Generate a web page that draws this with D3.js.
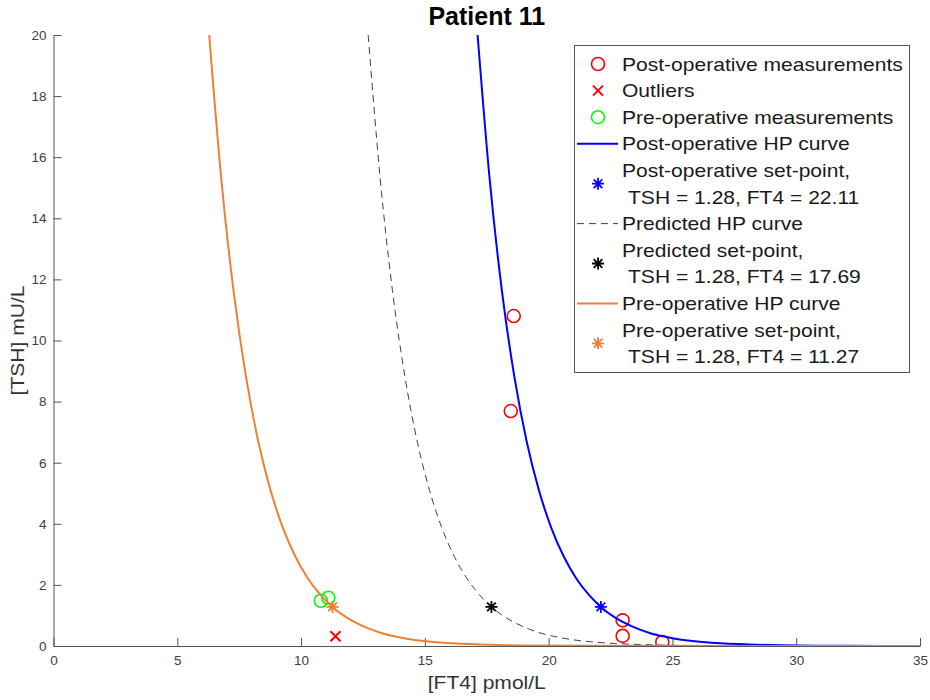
<!DOCTYPE html>
<html lang="en">
<head>
    <meta charset="UTF-8">
    <title>Patient 11</title>
    <script src="https://d3js.org/d3.v7.min.js"></script>
    <style>
        body { margin: 0; background: #fff; }
        svg text { font-family: "Liberation Sans", Arial, sans-serif; }
    </style>
</head>
<body>
    <div id="chart"></div>

    <script>
        const postMeasurements = [[18.59, 10.80], [18.47, 7.69], [22.99, 0.84], [22.99, 0.33], [24.59, 0.13]];
        const outliers = [[11.39, 0.32]];
        const preMeasurements = [[10.80, 1.48], [11.10, 1.58]];

        // set-points
        const postSetPoint = [22.11, 1.28];
        const predSetPoint = [17.69, 1.28];
        const preSetPoint = [11.27, 1.28];

        // HP curves, points
        const postCurveFT4 = [17.13, 17.61, 18.11, 18.61, 19.11, 19.61, 20.11, 20.61, 21.11, 21.61, 22.11, 22.61, 23.11, 23.61, 24.11, 24.61, 25.11, 26.11, 27.11, 28.11, 30.11, 32.11, 35];
        const predCurveFT4 = [12.71, 13.19, 13.69, 14.19, 14.69, 15.19, 15.69, 16.19, 16.69, 17.19, 17.69, 18.19, 18.69, 19.19, 19.69, 20.19, 20.69, 21.69, 22.69, 23.69, 25.69, 27.69, 35];
        const preCurveFT4 = [6.29, 6.77, 7.27, 7.77, 8.27, 8.77, 9.27, 9.77, 10.27, 10.77, 11.27, 11.77, 12.27, 12.77, 13.27, 13.77, 14.27, 15.27, 16.27, 17.27, 19.27, 21.27, 35];
        const curveTSH = [20.0, 15.35, 11.64, 8.84, 6.70, 5.09, 3.86, 2.93, 2.22, 1.69, 1.28, 0.97, 0.74, 0.56, 0.42, 0.32, 0.24, 0.14, 0.08, 0.05, 0.015, 0.005, 0.0];

        const xTicks = [0, 5, 10, 15, 20, 25, 30, 35];
        const yTicks = [0, 2, 4, 6, 8, 10, 12, 14, 16, 18, 20];

        const blue = "#0000ff", red = "#ff0000", green = "#00ff00", orange = "#ee8033", dark = "#333333";
        const wide = 1.17;  // text in the picture is stretched sideways

        const width = 930, height = 700;
        const margin = {top: 35, right: 10, bottom: 54, left: 53.5};

        const svg = d3.select("#chart").append("svg")
            .attr("width", width)
            .attr("height", height);

        const x = d3.scaleLinear().domain([0, 35]).range([margin.left, 920]);
        const y = d3.scaleLinear().domain([0, 20]).range([height - margin.bottom, margin.top]);

        svg.append("defs").append("clipPath").attr("id", "plot")
            .append("rect")
            .attr("x", x(0)).attr("y", y(20))
            .attr("width", x(35) - x(0)).attr("height", y(0) - y(20));

        // axes, ticks pointing inward
        const xAxis = svg.append("g")
            .attr("transform", `translate(0,${y(0)})`)
            .call(d3.axisBottom(x).tickValues(xTicks).tickSizeInner(-8).tickSizeOuter(0).tickPadding(9));
        const yAxis = svg.append("g")
            .attr("transform", `translate(${x(0)},0)`)
            .call(d3.axisLeft(y).tickValues(yTicks).tickSizeInner(-8).tickSizeOuter(0).tickPadding(7));
        [xAxis, yAxis].forEach(g => {
            g.select(".domain").attr("stroke", "#555");
            g.selectAll(".tick line").attr("stroke", "#555");
            g.selectAll(".tick text").attr("fill", "#404040").style("font-size", "13.5px");
        });

        // labels
        svg.append("text")
            .attr("transform", `translate(${(x(0) + x(35)) / 2},689) scale(${wide},1)`)
            .attr("text-anchor", "middle")
            .attr("fill", dark)
            .style("font-size", "18px")
            .text("[FT4] pmol/L");

        svg.append("text")
            .attr("transform", `translate(24,${(y(0) + y(20)) / 2}) rotate(-90) scale(${wide},1)`)
            .attr("text-anchor", "middle")
            .attr("fill", dark)
            .style("font-size", "18px")
            .text("[TSH] mU/L");

        svg.append("text")
            .attr("x", (x(0) + x(35)) / 2)
            .attr("y", 25)
            .attr("text-anchor", "middle")
            .style("font-size", "25px")
            .style("font-weight", "bold")
            .text("Patient 11");

        const plot = svg.append("g").attr("clip-path", "url(#plot)");

        const line = d3.line()
            .x(d => x(d[0]))
            .y(d => y(d[1]))
            .curve(d3.curveMonotoneX);

        function drawCircles(data, color) {
            plot.selectAll(null).data(data).enter().append("circle")
                .attr("cx", d => x(d[0])).attr("cy", d => y(d[1]))
                .attr("r", 6.5)
                .attr("fill", "none").attr("stroke", color).attr("stroke-width", 1.6);
        }

        function crossPath(cx, cy, r) {
            return `M${cx - r},${cy - r}L${cx + r},${cy + r}M${cx - r},${cy + r}L${cx + r},${cy - r}`;
        }

        function starPath(cx, cy, r) {
            const k = r * 0.72;
            return `M${cx - r},${cy}L${cx + r},${cy}M${cx},${cy - r}L${cx},${cy + r}` + crossPath(cx, cy, k);
        }

        function drawCurve(ft4, color, dash, w) {
            plot.append("path")
                .datum(ft4.map((v, i) => [v, curveTSH[i]]))
                .attr("d", line)
                .attr("fill", "none")
                .attr("stroke", color)
                .attr("stroke-width", w)
                .attr("stroke-dasharray", dash);
        }

        function drawStar(p, color) {
            plot.append("path")
                .attr("d", starPath(x(p[0]), y(p[1]), 6))
                .attr("stroke", color).attr("stroke-width", 1.8).attr("fill", "none");
        }

        drawCircles(postMeasurements, red);
        plot.selectAll(null).data(outliers).enter().append("path")
            .attr("d", d => crossPath(x(d[0]), y(d[1]), 5))
            .attr("stroke", red).attr("stroke-width", 2).attr("fill", "none");
        drawCircles(preMeasurements, green);
        drawCurve(postCurveFT4, blue, null, 2);
        drawStar(postSetPoint, blue);
        drawCurve(predCurveFT4, "#404040", "7,5", 1);
        drawStar(predSetPoint, "#000");
        drawCurve(preCurveFT4, orange, null, 2);
        drawStar(preSetPoint, orange);

        // legend
        const setLabel = (name, p) => [name + " set-point,", `TSH = ${p[1].toFixed(2)}, FT4 = ${p[0].toFixed(2)}`];
        const legendItems = [
            {kind: "circle", color: red, lines: ["Post-operative measurements"]},
            {kind: "cross", color: red, lines: ["Outliers"]},
            {kind: "circle", color: green, lines: ["Pre-operative measurements"]},
            {kind: "line", color: blue, w: 2, lines: ["Post-operative HP curve"]},
            {kind: "star", color: blue, lines: setLabel("Post-operative", postSetPoint)},
            {kind: "line", color: "#404040", w: 1, dash: "7,5", lines: ["Predicted HP curve"]},
            {kind: "star", color: "#000", lines: setLabel("Predicted", predSetPoint)},
            {kind: "line", color: orange, w: 2, lines: ["Pre-operative HP curve"]},
            {kind: "star", color: orange, lines: setLabel("Pre-operative", preSetPoint)}
        ];

        const legend = svg.append("g");
        legend.append("rect")
            .attr("x", 574.5).attr("y", 45.5)
            .attr("width", 335).attr("height", 327)
            .attr("fill", "#fff").attr("stroke", "#555").attr("stroke-width", 1);

        const rowH = 26.6;
        let row = 0;
        legendItems.forEach(item => {
            const n = item.lines.length;
            const cy = 70.5 + rowH * (row + (n - 1) / 2) - 6.5;
            const g = legend.append("g");
            if (item.kind === "circle") {
                g.append("circle").attr("cx", 598).attr("cy", cy).attr("r", 6.5)
                    .attr("fill", "none").attr("stroke", item.color).attr("stroke-width", 1.6);
            } else if (item.kind === "cross") {
                g.append("path").attr("d", crossPath(598, cy, 5))
                    .attr("stroke", item.color).attr("stroke-width", 2);
            } else if (item.kind === "star") {
                g.append("path").attr("d", starPath(598, cy, 6))
                    .attr("stroke", item.color).attr("stroke-width", 1.8);
            } else {
                g.append("line").attr("x1", 577).attr("x2", 618).attr("y1", cy).attr("y2", cy)
                    .attr("stroke", item.color).attr("stroke-width", item.w)
                    .attr("stroke-dasharray", item.dash || null);
            }
            item.lines.forEach((t, i) => {
                g.append("text")
                    .attr("transform", `translate(${i === 0 ? 622 : 628},${70.5 + rowH * (row + i)}) scale(${wide},1)`)
                    .attr("fill", "#1a1a1a")
                    .style("font-size", "18px")
                    .text(t);
            });
            row += n;
        });
    </script>
</body>
</html>
